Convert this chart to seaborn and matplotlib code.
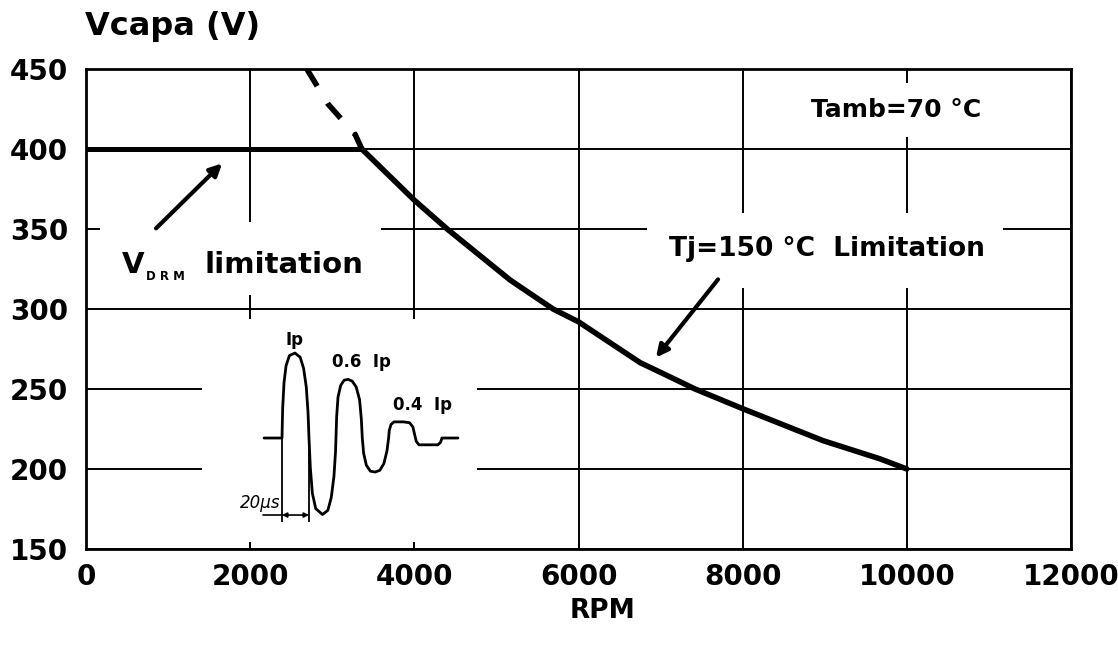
import numpy as np
import pandas as pd
import seaborn as sns
import matplotlib.pyplot as plt
from matplotlib.patches import Rectangle

# Valeurs
vdrm_rpm = [0, 3360]
vdrm_v = [400, 400]

tj_dash_rpm = [2690, 2950, 3280]
tj_dash_v = [450, 428, 409]

tj_rpm = [3280, 3360, 4000, 4400, 5170, 5690, 6000, 6750, 7080, 7420, 8000, 8980, 9670, 10000]
tj_v = [409, 400, 368, 350, 318, 300, 292, 266.5, 258.4, 250, 237.7, 217.7, 206.4, 200]

x_ticks = [0, 2000, 4000, 6000, 8000, 10000, 12000]
y_ticks = [150, 200, 250, 300, 350, 400, 450]

# forme d'onde de l'encart (temps en us, courant en Ip)
wave_t = [-13.3, 0, 0.5, 1.5, 3, 5.5, 9.6, 13.5, 16, 18, 19.3, 20,
          21, 22.5, 25, 30, 34, 36.5, 38.5, 39.7, 40,
          40.5, 41.5, 43.5, 46, 49, 52, 55, 57.5, 58.8, 59.5,
          60.5, 62.5, 65.5, 69, 72.5, 75.5, 77.8, 79,
          79.5, 80.8, 83, 90, 94.5, 97, 98.3, 99.5, 101.5,
          115.5, 117.5, 118.5, 130.4]
wave_i = [0, 0, 0.35, 0.65, 0.85, 0.97, 1.0, 0.95, 0.82, 0.6, 0.3, 0,
          -0.35, -0.65, -0.83, -0.9, -0.85, -0.7, -0.45, -0.15, 0,
          0.25, 0.48, 0.62, 0.68, 0.69, 0.67, 0.6, 0.45, 0.22, 0,
          -0.18, -0.32, -0.39, -0.4, -0.38, -0.3, -0.15, 0,
          0.09, 0.16, 0.19, 0.19, 0.18, 0.13, 0.04, -0.04, -0.08,
          -0.08, -0.05, 0, 0]
marker_t = [0, 20]

sns.set_style("white")
plt.rcParams['font.family'] = ['DejaVu Sans']
plt.rcParams['font.weight'] = 'bold'
plt.rcParams['text.color'] = 'black'
plt.rcParams['xtick.color'] = 'black'
plt.rcParams['ytick.color'] = 'black'

W, H = 1118, 652
fig = plt.figure(figsize=(W / 100, H / 100), dpi=100)
ax = fig.add_axes([86 / W, 1 - 549 / H, (1071 - 86) / W, (549 - 69) / H])

sns.lineplot(x=vdrm_rpm, y=vdrm_v, ax=ax, color="black", lw=3.6, zorder=3)
sns.lineplot(x=tj_dash_rpm, y=tj_dash_v, ax=ax, color="black", lw=4,
             linestyle=(0, (3.6, 3.6)), zorder=3)
sns.lineplot(x=tj_rpm, y=tj_v, ax=ax, color="black", lw=4, zorder=3)

ax.set_xlim(0, 12000)
ax.set_ylim(150, 450)
ax.set_xticks(x_ticks)
ax.set_yticks(y_ticks)
ax.tick_params(axis="both", length=0, labelsize=20, labelcolor="black")
ax.tick_params(axis="x", pad=10)
ax.tick_params(axis="y", pad=13)
for lab in ax.get_xticklabels() + ax.get_yticklabels():
    lab.set_fontweight("bold")
ax.set_axisbelow(True)
ax.grid(True, color="black", lw=1.4)
for s in ax.spines.values():
    s.set_visible(True)
    s.set_color("black")
    s.set_linewidth(2)
ax.set_xlabel("")
ax.set_ylabel("")

# caches blancs derriere les textes et l'encart
for x0, y0, x1, y1 in [(170, 308.5, 3595, 354.5), (6835, 313, 11170, 360),
                       (8640, 407.4, 11140, 441), (1413, 154.4, 4764, 294)]:
    ax.add_patch(Rectangle((x0, y0), x1 - x0, y1 - y0, facecolor="white",
                           edgecolor="none", zorder=1))

# textes
ax.text(439, 322.2, "V", fontsize=21, fontweight="bold", va="baseline", zorder=4)
ax.text(730, 317.9, "D R M", fontsize=8.5, fontweight="bold", va="baseline", zorder=4)
ax.text(1438, 322.2, "limitation", fontsize=21, fontweight="bold", va="baseline", zorder=4)
ax.text(9028, 337.3, "Tj=150 °C  Limitation", fontsize=19, fontweight="bold",
        ha="center", va="center", zorder=4)
ax.text(9868, 424.3, "Tamb=70 °C", fontsize=18, fontweight="bold",
        ha="center", va="center", zorder=4)

arrow = dict(arrowstyle="-|>", color="black", lw=3, mutation_scale=18,
             shrinkA=0, shrinkB=0)
ax.annotate("", xy=(1658, 391), xytext=(853, 350.4), arrowprops=arrow, zorder=4)
ax.annotate("", xy=(6944, 269.7), xytext=(7700, 318.5), arrowprops=arrow, zorder=4)

fig.text(85 / W, 1 - 26 / H, "Vcapa (V)", fontsize=23, fontweight="bold",
         ha="left", va="center")
fig.text(602 / W, 1 - 611 / H, "RPM", fontsize=19, fontweight="bold",
         ha="center", va="center")

# encart : forme d'onde du courant
axi = fig.add_axes([255 / W, 1 - 530 / H, 210 / W, 195 / H])
axi.set_zorder(5)
axi.patch.set_alpha(0)
sns.lineplot(x=wave_t, y=wave_i, ax=axi, color="black", lw=2)
axi.set_xlim(-20, 135.6)
axi.set_ylim(-1.082, 1.212)
axi.axis("off")
axi.vlines(marker_t, -0.99, 0, color="black", lw=1.3)
axi.plot([-14, 0], [-0.906, -0.906], color="black", lw=1.2)
axi.annotate("", xy=(20, -0.906), xytext=(0, -0.906),
             arrowprops=dict(arrowstyle="<|-|>", color="black", lw=1.2,
                             mutation_scale=7, shrinkA=0, shrinkB=0))
axi.text(-1, -0.76, "20µs", fontsize=12, fontstyle="italic", fontweight="normal",
         ha="right", va="center")
axi.text(9.6, 1.15, "Ip", fontsize=12, fontweight="bold", ha="center", va="center",
         clip_on=False)
axi.text(59, 0.894, "0.6  Ip", fontsize=12, fontweight="bold", ha="center", va="center")
axi.text(104, 0.388, "0.4  Ip", fontsize=12, fontweight="bold", ha="center", va="center")

fig.savefig("out.png", dpi=100)
